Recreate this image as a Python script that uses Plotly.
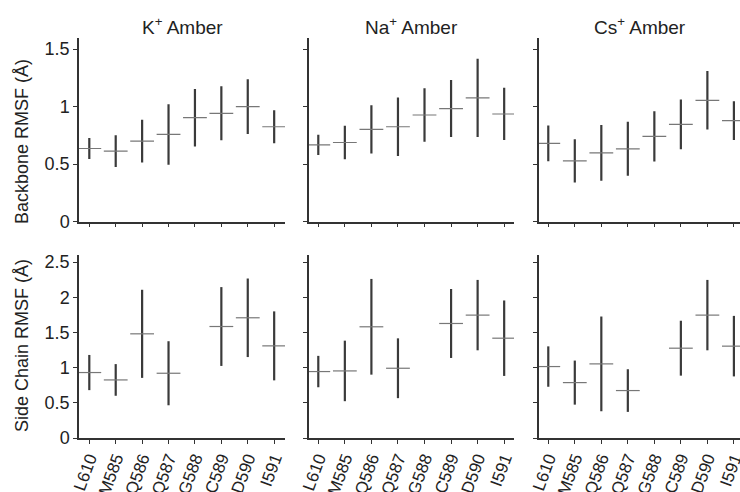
import plotly.graph_objects as go

residues = ["L610", "M585", "Q586", "Q587", "G588", "C589", "D590", "I591"]
ions = ["K<sup>+</sup> Amber", "Na<sup>+</sup> Amber", "Cs<sup>+</sup> Amber"]

# Backbone RMSF (mean, sd)
bb_k_mean = [0.635, 0.612, 0.699, 0.757, 0.903, 0.941, 0.999, 0.824]
bb_k_sd = [0.092, 0.137, 0.185, 0.263, 0.250, 0.235, 0.239, 0.144]
bb_na_mean = [0.667, 0.687, 0.801, 0.824, 0.926, 0.982, 1.075, 0.935]
bb_na_sd = [0.088, 0.146, 0.210, 0.255, 0.233, 0.248, 0.341, 0.227]
bb_cs_mean = [0.679, 0.527, 0.597, 0.632, 0.740, 0.845, 1.054, 0.877]
bb_cs_sd = [0.155, 0.188, 0.243, 0.235, 0.219, 0.216, 0.254, 0.169]

# Side chain RMSF (mean, sd); G588 has no side chain
sc_k_mean = [0.930, 0.825, 1.480, 0.920, None, 1.584, 1.708, 1.309]
sc_k_sd = [0.250, 0.225, 0.626, 0.455, None, 0.560, 0.558, 0.490]
sc_na_mean = [0.944, 0.953, 1.580, 0.991, None, 1.627, 1.746, 1.418]
sc_na_sd = [0.223, 0.430, 0.680, 0.425, None, 0.490, 0.500, 0.536]
sc_cs_mean = [1.015, 0.787, 1.053, 0.674, None, 1.276, 1.746, 1.305]
sc_cs_sd = [0.287, 0.313, 0.673, 0.303, None, 0.390, 0.500, 0.430]

W, H = 740, 492
FONT = "Liberation Sans, Arial, Helvetica, sans-serif"
AX = "#333333"

panels = [
    (bb_k_mean, bb_k_sd), (bb_na_mean, bb_na_sd), (bb_cs_mean, bb_cs_sd),
    (sc_k_mean, sc_k_sd), (sc_na_mean, sc_na_sd), (sc_cs_mean, sc_cs_sd),
]

xdoms = [(79 / W, 285 / W), (309 / W, 514 / W), (539 / W, 1.0)]
xranges = [[-0.39, 7.41], [-0.35, 7.37], [-0.35, 7.23]]
ydoms = [(1 - 221.5 / H, 1 - 37.5 / H), (1 - 438 / H, 1 - 255 / H)]
yranges = [[0, 1.6], [0, 2.6]]

fig = go.Figure()
layout = dict(
    width=W, height=H, margin=dict(l=0, r=0, t=0, b=0, autoexpand=False),
    paper_bgcolor="white", plot_bgcolor="white", showlegend=False,
    font=dict(family=FONT, size=18, color="#222"),
)

for i, (m, s) in enumerate(panels):
    row, col = divmod(i, 3)
    n = i + 1
    xa = "x" if n == 1 else f"x{n}"
    ya = "y" if n == 1 else f"y{n}"
    fig.add_trace(go.Scatter(
        x=residues, y=m, xaxis=xa, yaxis=ya, mode="markers",
        marker=dict(symbol="line-ew", size=17, color="#777",
                    line=dict(width=1.2, color="#777")),
        error_y=dict(type="data", array=s, symmetric=True, visible=True,
                     color="#3a3a3a", thickness=2.2, width=0),
        hoverinfo="skip",
    ))
    key_x = "xaxis" if n == 1 else f"xaxis{n}"
    key_y = "yaxis" if n == 1 else f"yaxis{n}"
    layout[key_x] = dict(
        domain=list(xdoms[col]), anchor=ya, type="category",
        range=xranges[col], showgrid=False, zeroline=False,
        showline=True, linecolor=AX, linewidth=1.5,
        ticks="outside", ticklen=4, tickwidth=1.2, tickcolor=AX,
        showticklabels=(row == 1), tickangle=-70, automargin=False,
        ticklabelstandoff=-2,
        tickfont=dict(size=17, family=FONT, color="#222"),
        fixedrange=True,
    )
    layout[key_y] = dict(
        domain=list(ydoms[row]), anchor=xa, range=yranges[row],
        dtick=0.5, tick0=0, showgrid=False, zeroline=False,
        showline=True, linecolor=AX, linewidth=1.5,
        ticks="outside", ticklen=4, tickwidth=1.2, tickcolor=AX,
        showticklabels=(col == 0), automargin=False,
        tickfont=dict(size=18, family=FONT, color="#222"),
        fixedrange=True,
    )

fig.update_layout(**layout)

annotations = []
title_x = [182, 411.5, 640]
for t, x in zip(ions, title_x):
    annotations.append(dict(
        text=t, x=x / W, y=1 - 26 / H, xref="paper", yref="paper",
        xanchor="center", yanchor="middle", showarrow=False,
        font=dict(size=19, family=FONT, color="#222"),
    ))
for t, yc in [("Backbone RMSF (Å)", 142), ("Side Chain RMSF (Å)", 346)]:
    annotations.append(dict(
        text=t, x=22 / W, y=1 - yc / H, xref="paper", yref="paper",
        xanchor="center", yanchor="middle", showarrow=False, textangle=-90,
        font=dict(size=18, family=FONT, color="#222"),
    ))
fig.update_layout(annotations=annotations)

fig.write_html(
    "out.html",
    config={"displayModeBar": False},
    post_script="document.body.style.margin='0';document.body.style.overflow='hidden';",
)
